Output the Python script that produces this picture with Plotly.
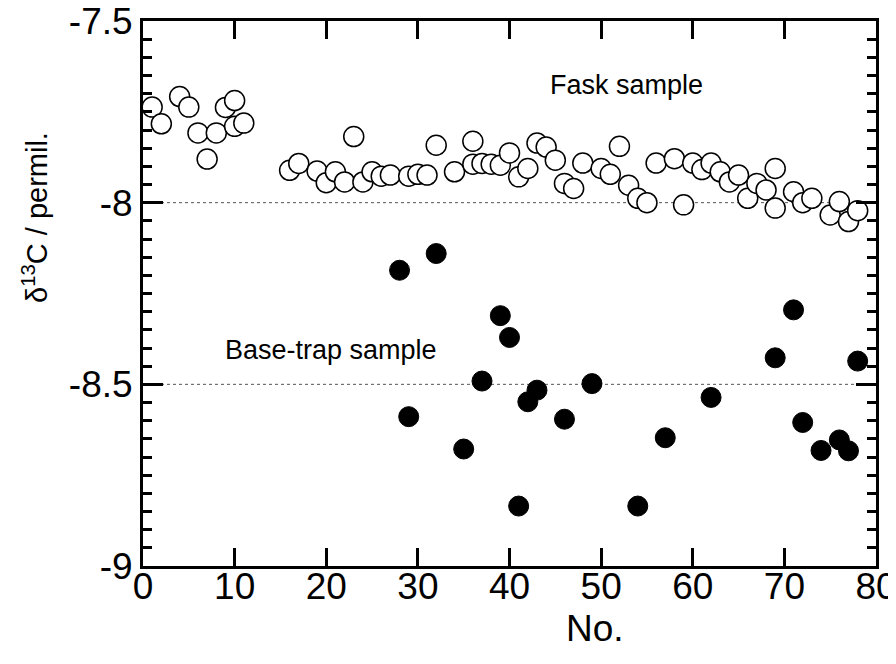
import plotly.graph_objects as go

# Flask samples (open circles)
flask_no = [1, 2, 4, 5, 6, 7, 8, 9, 10, 10, 11,
            16, 17, 19, 20, 21, 22, 23, 24, 25, 26, 27, 29, 30, 31, 32, 34,
            36, 36, 37, 38, 39, 40, 41, 42, 43, 44, 45, 46, 47, 48, 50, 51,
            52, 53, 54, 55, 56, 58, 59, 60, 61, 62, 63, 64, 65, 66, 67, 68,
            69, 69, 71, 72, 73, 75, 76, 77, 78]
flask_d13c = [-7.737, -7.783, -7.708, -7.737, -7.808, -7.880, -7.808, -7.738, -7.719, -7.790, -7.781,
              -7.911, -7.892, -7.913, -7.945, -7.915, -7.943, -7.818, -7.943, -7.915, -7.927, -7.924,
              -7.927, -7.922, -7.924, -7.842, -7.915,
              -7.831, -7.894, -7.892, -7.894, -7.897, -7.863, -7.929, -7.906, -7.836, -7.847, -7.883,
              -7.947, -7.961, -7.891, -7.906, -7.922,
              -7.845, -7.952, -7.988, -8.000, -7.891, -7.879, -8.006, -7.891, -7.909, -7.891, -7.915,
              -7.943, -7.924, -7.988, -7.947, -7.965,
              -7.906, -8.015, -7.970, -8.000, -7.988, -8.034, -7.997, -8.052, -8.022]

# Base-trap samples (filled circles)
trap_no = [28, 29, 32, 35, 37, 39, 40, 41, 42, 43, 46, 49, 54, 57, 62, 69, 71, 72, 74, 76, 77, 78]
trap_d13c = [-8.186, -8.589, -8.140, -8.678, -8.491, -8.311, -8.371, -8.835, -8.548, -8.516,
             -8.596, -8.498, -8.835, -8.647, -8.536, -8.427, -8.295, -8.605, -8.682, -8.653,
             -8.683, -8.436]

ref_levels = [-8.0, -8.5]
x_ticks = [0, 10, 20, 30, 40, 50, 60, 70, 80]
y_ticks = [-9, -8.5, -8, -7.5]
y_tick_text = ["-9", "-8.5", "-8", "-7.5"]

FONT = "Liberation Sans, Arial, Helvetica, sans-serif"

fig = go.Figure()

for lv in ref_levels:
    fig.add_shape(type="line", xref="paper", x0=0, x1=1, yref="y", y0=lv, y1=lv,
                  line=dict(color="#555555", width=1, dash="dot"), layer="below")

fig.add_trace(go.Scatter(
    x=flask_no, y=flask_d13c, mode="markers", name="Fask sample",
    marker=dict(symbol="circle", size=20, color="white",
                line=dict(color="black", width=1.5)),
))
fig.add_trace(go.Scatter(
    x=trap_no, y=trap_d13c, mode="markers", name="Base-trap sample",
    marker=dict(symbol="circle", size=20, color="black",
                line=dict(color="black", width=1)),
))

fig.add_annotation(x=52.8, y=-7.675, xref="x", yref="y", text="Fask sample",
                   showarrow=False, font=dict(family=FONT, size=27, color="black"))
fig.add_annotation(x=20.5, y=-8.405, xref="x", yref="y", text="Base-trap sample",
                   showarrow=False, font=dict(family=FONT, size=27, color="black"))

fig.add_annotation(x=-0.175, y=0.64, xref="paper", yref="paper",
                   text="δ<sup>13</sup>C / permil.", textangle=-90, showarrow=False,
                   font=dict(family=FONT, size=29, color="black"))
fig.add_annotation(x=0.617, y=-0.114, xref="paper", yref="paper", yanchor="middle",
                   text="No.", showarrow=False,
                   font=dict(family=FONT, size=37, color="black"))

fig.update_layout(
    width=896, height=664,
    margin=dict(l=135, r=28, t=13, b=106),
    paper_bgcolor="white", plot_bgcolor="white",
    showlegend=False,
    font=dict(family=FONT, color="black"),
    xaxis=dict(range=[0, 80], tickvals=x_ticks, ticks="inside", ticklen=18, tickwidth=3,
               tickcolor="black", showline=True, linecolor="black", linewidth=3, mirror="ticks",
               showgrid=False, zeroline=False, ticklabeloverflow="allow", automargin=False,
               ticklabelstandoff=-14,
               tickfont=dict(family=FONT, size=37, color="black")),
    yaxis=dict(range=[-9, -7.5], tickvals=y_ticks, ticktext=y_tick_text,
               ticks="inside", ticklen=20, tickwidth=3, tickcolor="black",
               showline=True, linecolor="black", linewidth=3, mirror="ticks",
               showgrid=False, zeroline=False, ticklabeloverflow="allow", automargin=False,
               minor=dict(dtick=0.05, ticks="inside", ticklen=9, tickcolor="black", tickwidth=3),
               tickfont=dict(family=FONT, size=37, color="black")),
)
fig.write_html("out.html")
